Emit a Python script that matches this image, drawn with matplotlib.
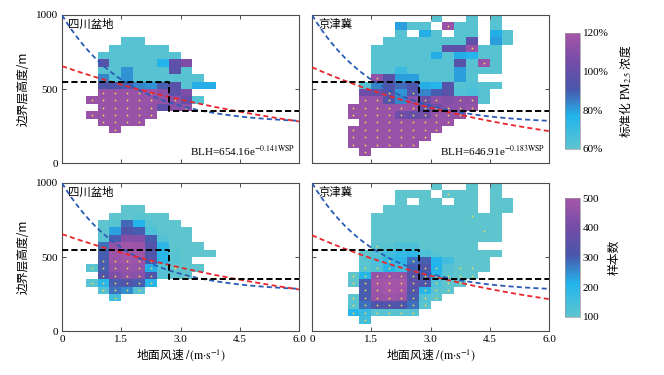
import numpy as np
import matplotlib
matplotlib.use('Agg')
import matplotlib.pyplot as plt
from matplotlib.colors import LinearSegmentedColormap

plt.rcParams['font.family'] = ['Liberation Serif', 'Noto Sans CJK SC']
plt.rcParams['mathtext.fontset'] = 'stix'
plt.rcParams['font.size'] = 8

nan = np.nan

# grid: 20 wind-speed bins (0-6 m/s) x 20 BLH bins (0-1000 m)
wsp_edges = np.linspace(0, 6, 21)
blh_edges = np.linspace(0, 1000, 21)

regions = ['四川盆地', '京津冀']

# rows keyed by BLH bin index: (first wind bin, values...)
# normalised PM2.5 (%) -- Sichuan basin
scb_pm = {
    16: (5, [62, 62]),
    15: (4, [62, 62, 62, 62, 62]),
    14: (3, [62, 62, 62, 62, 62, 62, 62]),
    13: (3, [96, 62, 62, 62, 62, 76, 98, 108]),
    12: (3, [62, 62, 82, 62, 62, 62, 96, 62]),
    11: (3, [84, 64, 82, 62, 62, 62, 62, 62, 62]),
    10: (3, [92, 92, 90, 84, 82, 90, 96, 62, 78, 78]),
    9: (3, [116, 116, 116, 116, 116, 112, 98, 108]),
    8: (2, [116, 116, 116, 116, 116, 116, 114, 112, 100, 62]),
    7: (3, [116, 116, 116, 116, 114, 98, 112, 114]),
    6: (2, [116, 116, 116, 116, 116, 116]),
    5: (3, [116, 116, 116, 116]),
    4: (4, [116]),
}

# sample counts -- Sichuan basin
scb_n = {
    16: (5, [100, 100]),
    15: (4, [100, 100, 110, 100, 100]),
    14: (3, [100, 110, 290, 210, 110, 100, 100]),
    13: (3, [100, 230, 320, 300, 130, 100, 100, 100]),
    12: (3, [110, 300, 430, 430, 300, 120, 100, 100]),
    11: (3, [280, 460, 490, 480, 330, 190, 100, 100, 100]),
    10: (3, [300, 480, 500, 490, 320, 200, 110, 100, 100, 100]),
    9: (3, [300, 470, 490, 480, 330, 200, 110, 100]),
    8: (2, [110, 300, 450, 470, 460, 220, 120, 100, 100, 100]),
    7: (3, [320, 420, 450, 440, 320, 120, 100, 100]),
    6: (2, [110, 200, 300, 320, 300, 200]),
    5: (3, [120, 280, 250, 120]),
    4: (4, [150]),
}

# normalised PM2.5 (%) -- Beijing-Tianjin-Hebei
jjj_pm = {
    19: (10, [62, nan, nan, 62, nan, 62]),
    18: (7, [80, 62, 62, nan, 116, 62, 62, nan, 62]),
    17: (7, [62, nan, 78, 62, nan, 62, 62, nan, 78, 62]),
    16: (6, [62, 62, 62, 62, 62, 62, 62, 98, nan, 80, 62]),
    15: (5, [62, 62, 62, 62, 62, 62, 98, 98, 116, 62, 62]),
    14: (5, [62, 62, 62, 62, 62, 78, 62, 78, 76, 62, 62]),
    13: (5, [62, 62, 62, 62, 62, 62, 62, 96, 62, 116, 62]),
    12: (5, [62, 62, 70, 62, 62, 62, 62, 80, 62, 62, 62]),
    11: (5, [114, 96, 80, 80, 62, 62, 62, 80, 62]),
    10: (4, [62, 84, 92, 88, 92, 78, 76, 94, 62, 64, 62, 62]),
    9: (4, [104, 100, 96, 82, 94, 84, 90, 96, 64, 66, 62]),
    8: (4, [116, 116, 94, 84, 112, 102, 112, 110, 112, 112, 62]),
    7: (3, [116, 116, 116, 116, 116, 116, 98, 104, 112, 112, 114]),
    6: (3, [116, 116, 116, 116, 104, 100, 104, 114, 114, 114]),
    5: (4, [116, 116, 116, 116, 116, 116, 116, 116]),
    4: (3, [116, 116, 116, 116, 116, 116, 116, 116]),
    3: (3, [116, 116, 116, 116, 116, 116, 116]),
    2: (3, [116, 116, 116, 116, 116, 116]),
    1: (4, [116]),
}

# sample counts -- Beijing-Tianjin-Hebei
jjj_n = {
    19: (10, [100, nan, nan, 100, nan, 100]),
    18: (7, [100, 100, 100, nan, 100, 100, 100, nan, 100]),
    17: (7, [100, nan, 100, 100, nan, 100, 100, nan, 100, 100]),
    16: (6, [100, 100, 100, 100, 100, 100, 100, 100, nan, 100, 100]),
    15: (5, [100, 100, 100, 100, 100, 100, 100, 100, 100, 100, 100]),
    14: (5, [100, 100, 100, 100, 100, 100, 100, 100, 100, 100, 100]),
    13: (5, [100, 100, 100, 100, 100, 100, 100, 100, 100, 100, 100]),
    12: (5, [100, 100, 100, 100, 100, 100, 100, 100, 100, 100, 100]),
    11: (5, [110, 110, 130, 130, 100, 100, 100, 100, 100]),
    10: (4, [100, 120, 150, 180, 190, 130, 110, 100, 100, 100, 100, 100]),
    9: (4, [110, 140, 180, 190, 280, 300, 210, 150, 100, 100, 100]),
    8: (4, [110, 130, 200, 160, 300, 320, 210, 120, 100, 100, 100]),
    7: (3, [100, 200, 460, 480, 470, 330, 300, 200, 110, 100, 100]),
    6: (3, [100, 300, 490, 500, 500, 350, 320, 130, 100, 100]),
    5: (4, [300, 480, 500, 490, 330, 200, 110, 100]),
    4: (3, [100, 300, 470, 480, 470, 300, 120, 100]),
    3: (3, [110, 280, 320, 330, 320, 280, 110]),
    2: (3, [200, 170, 110, 110, 110, 110]),
    1: (4, [150]),
}

# marked (dotted) cells: BLH bin -> wind bins
scb_dots = {9: [3, 4, 5, 6, 7], 8: [2, 3, 4, 5, 6, 7, 9], 7: [3, 4, 5, 6, 7, 10],
            6: [2, 3, 4, 5, 6, 7], 5: [3, 4, 5, 6], 4: [4]}
jjj_dots = {18: [11], 15: [13], 13: [14], 11: [5], 9: [6, 8],
            8: [4, 5, 6, 8, 9, 10, 12, 13], 7: [3, 4, 5, 6, 7, 8, 9, 10, 11, 12, 13],
            6: [3, 4, 5, 6, 7, 8, 9, 10, 11, 12], 5: [4, 5, 6, 7, 8, 9, 10, 11],
            4: [3, 4, 5, 6, 7, 8, 9, 10], 3: [3, 4, 5, 6, 7, 8, 9],
            2: [3, 4, 5, 6, 7, 8], 1: [4]}

# fits BLH = a * exp(-b * WSP)
fits = [(654.16, 0.141), (646.91, 0.183)]
fit_labels = [r'BLH=654.16e$^{-0.141\mathrm{WSP}}$', r'BLH=646.91e$^{-0.183\mathrm{WSP}}$']
# blue reference curve: c + a * exp(-b * WSP)
ref_curve = (265, 735, 0.60)
# black step threshold: wind speed, upper BLH, lower BLH
step_wsp = [0, 2.7, 2.7, 6]
step_blh = [550, 550, 350, 350]

cmap = LinearSegmentedColormap.from_list('pm', [
    (0.0, '#5ec5cf'), (0.28, '#22b4ec'), (0.52, '#4a56aa'),
    (0.75, '#734ca8'), (1.0, '#a656a8')])

CJK = 'Noto Sans CJK SC'


def to_grid(rows):
    g = np.full((20, 20), np.nan)
    for j, (i0, vals) in rows.items():
        g[j, i0:i0 + len(vals)] = vals
    return g


def dot_xy(dots):
    xc = (wsp_edges[:-1] + wsp_edges[1:]) / 2
    yc = (blh_edges[:-1] + blh_edges[1:]) / 2
    xs, ys = [], []
    for j, cols in dots.items():
        for i in cols:
            xs.append(xc[i])
            ys.append(yc[j])
    return xs, ys


fig = plt.figure(figsize=(6.64, 3.75), dpi=100)
lefts = [0.0934, 0.4699]
bottoms = [0.5653, 0.1173]
w, h = 0.3569, 0.3947

panels = [[scb_pm, jjj_pm], [scb_n, jjj_n]]
dots = [scb_dots, jjj_dots]
limits = [(60, 120), (100, 500)]
spine_c = '#4d4d4d'

meshes = []
for r in range(2):
    for c in range(2):
        ax = fig.add_axes([lefts[c], bottoms[r], w, h])
        m = ax.pcolormesh(wsp_edges, blh_edges, to_grid(panels[r][c]), cmap=cmap,
                          vmin=limits[r][0], vmax=limits[r][1], shading='flat')
        dx, dy = dot_xy(dots[c])
        ax.scatter(dx, dy, s=1.6, color='#f3d94a', lw=0, zorder=3)

        xx = np.linspace(0, 6, 200)
        a, b = fits[c]
        cc, ca, cb = ref_curve
        ax.plot(xx, cc + ca * np.exp(-cb * xx), color='#2b5cb5', lw=1.3,
                dashes=(2.8, 1.8), zorder=4)
        ax.plot(xx, a * np.exp(-b * xx), color='#e8262b', lw=1.3,
                dashes=(2.8, 1.8), zorder=4)
        ax.plot(step_wsp, step_blh, color='black', lw=1.4, dashes=(3.2, 1.6), zorder=5)

        ax.set_xlim(0, 6)
        ax.set_ylim(0, 1000)
        ax.set_xticks([0, 1.5, 3.0, 4.5, 6.0])
        ax.set_yticks([0, 500, 1000])
        ax.tick_params(direction='in', length=3, width=0.7, color=spine_c,
                       top=True, right=True, labelsize=8, pad=3)
        for s in ax.spines.values():
            s.set_color(spine_c)
            s.set_linewidth(0.8)
        ax.text(0.025, 0.975, regions[c], transform=ax.transAxes, ha='left',
                va='top', fontsize=8.2, family=CJK)
        if r == 0:
            ax.set_xticklabels([])
            ax.text(0.985, 0.035, fit_labels[c], transform=ax.transAxes,
                    ha='right', va='bottom', fontsize=8)
        else:
            ax.set_xticklabels(['0', '1.5', '3.0', '4.5', '6.0'])
            ax.set_xlabel(r'地面风速 $/(\mathrm{m{\cdot}s}^{-1})$', fontsize=8.5,
                          labelpad=2, family=CJK)
        if c == 0:
            ax.set_ylabel('边界层高度/m', fontsize=8.5, labelpad=4, family=CJK)
        else:
            ax.set_yticklabels([])
    meshes.append(m)

cb_specs = [
    ([0.8509, 0.6027, 0.0226, 0.3093], [60, 80, 100, 120],
     ['60%', '80%', '100%', '120%'], r'标准化 $\mathrm{PM}_{2.5}$ 浓度'),
    ([0.8509, 0.1547, 0.0226, 0.3170], [100, 200, 300, 400, 500],
     ['100', '200', '300', '400', '500'], '样本数'),
]
for m, (pos, ticks, labels, title) in zip(meshes, cb_specs):
    cax = fig.add_axes(pos)
    cbar = fig.colorbar(m, cax=cax, ticks=ticks)
    cbar.ax.set_yticklabels(labels)
    cbar.ax.tick_params(length=0, labelsize=8, pad=2)
    cbar.outline.set_edgecolor('#999999')
    cbar.outline.set_linewidth(0.5)
    cbar.set_label(title, fontsize=8.5, labelpad=6, family=CJK)

fig.savefig('out.png', dpi=100)
